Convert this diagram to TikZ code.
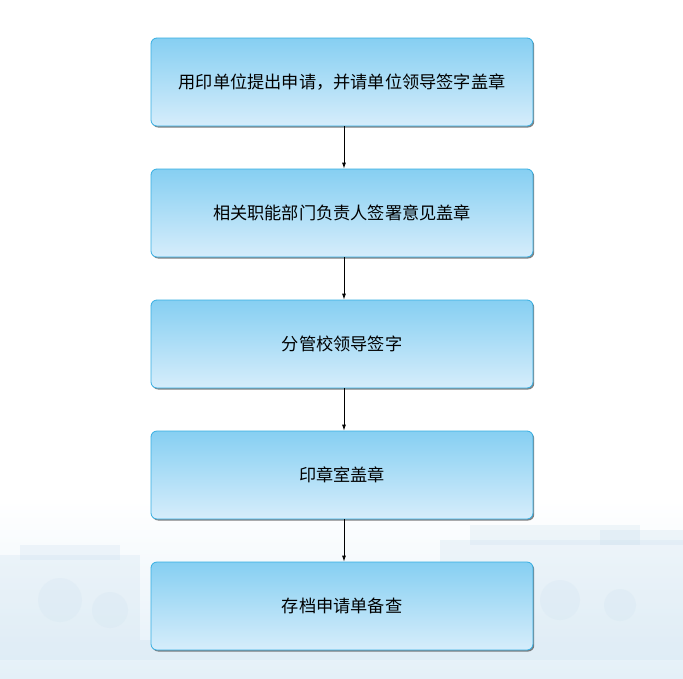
\documentclass[tikz,border=0pt]{standalone}
\usepackage{fontspec}
\newfontfamily\cjk{Noto Sans CJK SC}
\usetikzlibrary{shadows,arrows.meta}
\definecolor{boxtop}{HTML}{86CFF2}
\definecolor{boxbot}{HTML}{D6EDFB}
\definecolor{boxline}{HTML}{35AEE2}
\definecolor{bgfade}{HTML}{E4F0F8}
\definecolor{bldg}{HTML}{C9DFEE}
\tikzset{
  x=1pt, y=-1pt,
  stepbox/.style={draw=boxline, line width=0.8pt, rounded corners=6pt,
    top color=boxtop, bottom color=boxbot,
    minimum width=382pt, minimum height=88pt, inner sep=0pt,
    font=\cjk\fontsize{17.2}{20}\selectfont,
    drop shadow={shadow xshift=1.2pt, shadow yshift=-1.5pt, fill=black!70, opacity=0.7}},
  flow/.style={-{Latex[length=6pt,width=4pt]}, line width=0.8pt, black}
}
\begin{document}
\begin{tikzpicture}
\useasboundingbox (0,0) rectangle (683,678);
\fill[white] (0,0) rectangle (683,678);
% faint background scenery
\shade[top color=white, bottom color=bgfade] (0,500) rectangle (683,678);
\begin{scope}[fill=bldg, opacity=0.25]
  \fill (0,555) rectangle (140,640);
  \fill (20,545) rectangle (120,560);
  \fill (440,540) rectangle (683,640);
  \fill (470,525) rectangle (640,545);
  \fill (600,530) rectangle (683,545);
  \fill (0,640) -- (683,640) -- (683,660) -- (0,660) -- cycle;
\end{scope}
\begin{scope}[fill=bldg, opacity=0.18]
  \fill (60,600) circle (22);
  \fill (110,610) circle (18);
  \fill (560,600) circle (20);
  \fill (620,605) circle (16);
\end{scope}
\node[stepbox] (s1) at (342,82) {用印单位提出申请，并请单位领导签字盖章};
\node[stepbox] (s2) at (342,213) {相关职能部门负责人签署意见盖章};
\node[stepbox] (s3) at (342,344) {分管校领导签字};
\node[stepbox] (s4) at (342,475) {印章室盖章};
\node[stepbox] (s5) at (342,606) {存档申请单备查};
\draw[flow] ([xshift=2pt]s1.south) -- ([xshift=2pt]s2.north);
\draw[flow] ([xshift=2pt]s2.south) -- ([xshift=2pt]s3.north);
\draw[flow] ([xshift=2pt]s3.south) -- ([xshift=2pt]s4.north);
\draw[flow] ([xshift=2pt]s4.south) -- ([xshift=2pt]s5.north);
\end{tikzpicture}
\end{document}
